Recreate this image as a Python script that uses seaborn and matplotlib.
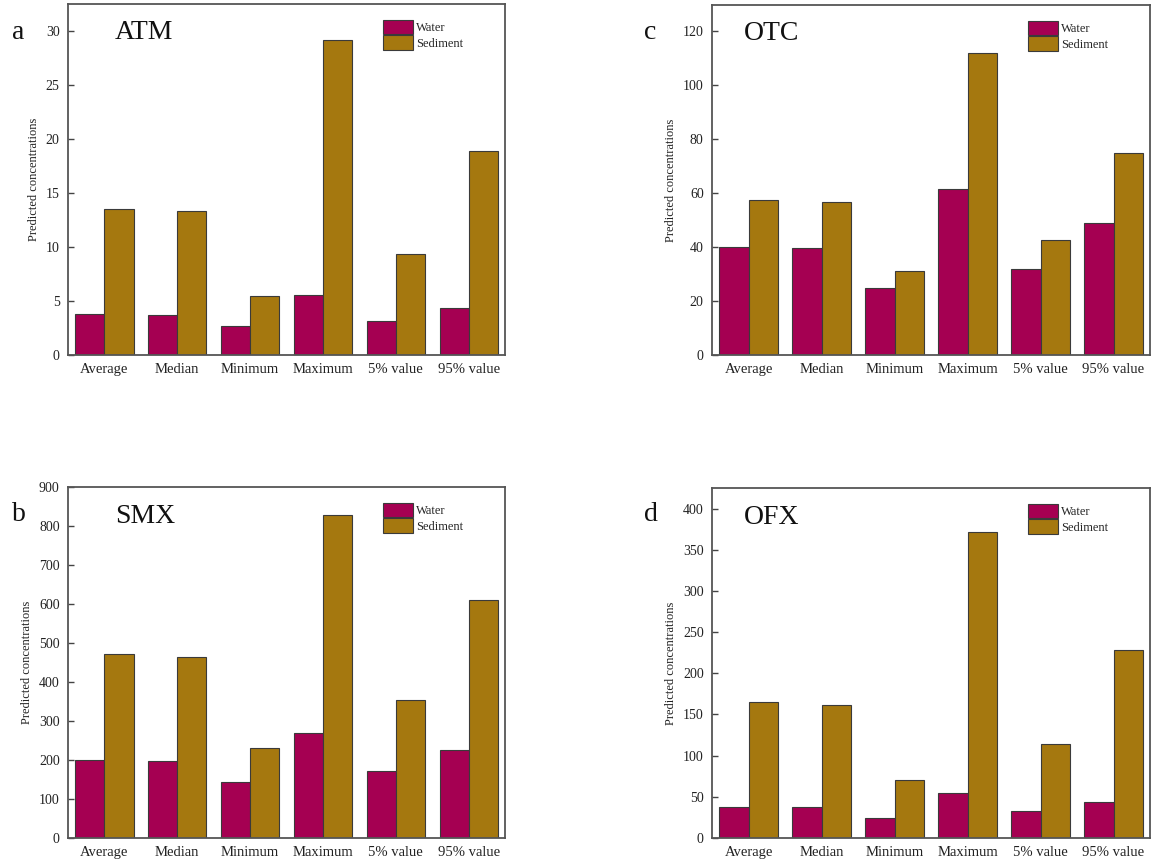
import matplotlib
matplotlib.use("Agg")
import matplotlib.pyplot as plt
import seaborn as sns
import pandas as pd

# Summary statistics of predicted concentrations
stats = ["Average", "Median", "Minimum", "Maximum", "5% value", "95% value"]
media = ["Water", "Sediment"]

atm_water = [3.77, 3.73, 2.65, 5.56, 3.15, 4.38]
atm_sediment = [13.55, 13.3, 5.49, 29.17, 9.35, 18.9]

otc_water = [39.9, 39.6, 24.8, 61.7, 32.0, 49.0]
otc_sediment = [57.4, 56.7, 31.0, 112.0, 42.8, 74.8]

smx_water = [199, 197, 143, 269, 173, 226]
smx_sediment = [472, 465, 232, 829, 353, 609]

ofx_water = [38.0, 37.6, 24.6, 54.1, 32.3, 44.0]
ofx_sediment = [165.7, 162.0, 70.7, 372.0, 114.7, 228.3]

panels = [
    # letter, compound, water, sediment, ylim, yticks, axes rect, letter pos, name pos
    ("a", "ATM", atm_water, atm_sediment, 32.5, range(0, 31, 5),
     [0.0589, 0.5896, 0.3784, 0.4058], (0.010, 0.962), (0.107, 0.92)),
    ("c", "OTC", otc_water, otc_sediment, 129.7, range(0, 121, 20),
     [0.6165, 0.5896, 0.3792, 0.4046], (0.558, 0.962), (0.072, 0.92)),
    ("b", "SMX", smx_water, smx_sediment, 900, range(0, 901, 100),
     [0.0589, 0.0312, 0.3784, 0.4058], (0.010, 0.405), (0.107, 0.915)),
    ("d", "OFX", ofx_water, ofx_sediment, 425, range(0, 401, 50),
     [0.6165, 0.0312, 0.3792, 0.4046], (0.558, 0.405), (0.072, 0.915)),
]

sns.set_theme(style="white")
plt.rcParams["font.family"] = ["Liberation Serif", "DejaVu Serif"]

palette = {"Water": "#a50052", "Sediment": "#a5780f"}

fig = plt.figure(figsize=(11.55, 8.65), dpi=100)

for letter, name, water, sediment, ytop, yticks, rect, lpos, npos in panels:
    ax = fig.add_axes(rect)
    df = pd.DataFrame({
        "Statistic": stats * 2,
        "Medium": ["Water"] * len(stats) + ["Sediment"] * len(stats),
        "Concentration": list(water) + list(sediment),
    })
    sns.barplot(data=df, x="Statistic", y="Concentration", hue="Medium",
                hue_order=media, order=stats, palette=palette, width=0.8,
                edgecolor="#3a3a3a", linewidth=0.8, saturation=1, ax=ax)
    ax.set_xlim(-0.5, len(stats) - 0.5)
    ax.set_ylim(0, ytop)
    ax.set_yticks(list(yticks))
    ax.set_xlabel("")
    ax.set_ylabel("Predicted concentrations", fontsize=9, color="#222222")
    ax.tick_params(axis="y", direction="in", length=4, width=1, color="#444444",
                   labelsize=10, labelcolor="#222222", pad=6, left=True)
    ax.tick_params(axis="x", length=0, labelsize=10.5, labelcolor="#222222", pad=6)
    for sp in ax.spines.values():
        sp.set_visible(True)
        sp.set_color("#555555")
        sp.set_linewidth(1.3)

    handles, labels = ax.get_legend_handles_labels()
    ax.legend(handles, labels, loc="upper left", bbox_to_anchor=(0.71, 0.97),
              frameon=False, fontsize=9, handlelength=2.4, handleheight=1.45,
              labelspacing=0.05, handletextpad=0.25, borderaxespad=0.0)

    ax.text(npos[0], npos[1], name, transform=ax.transAxes, fontsize=20,
            va="center", ha="left", color="#111111")
    fig.text(lpos[0], lpos[1], letter, fontsize=20, va="center", ha="left",
             color="#111111")

fig.savefig("out.png", dpi=100)
